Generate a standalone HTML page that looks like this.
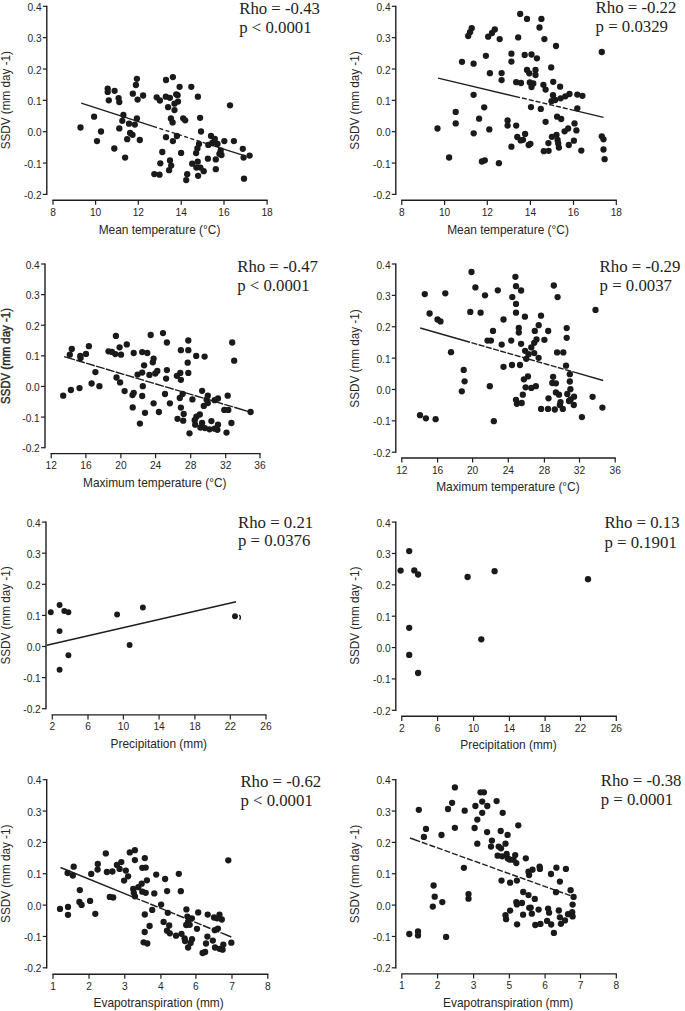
<!DOCTYPE html>
<html><head><meta charset="utf-8"><style>
html,body{margin:0;padding:0;background:#fff;}
svg{display:block;}
.t{font-family:"Liberation Sans",sans-serif;font-size:10.2px;fill:#262626;}
.yl{font-family:"Liberation Sans",sans-serif;font-size:11.9px;fill:#262626;}
.yl.b{stroke:#262626;stroke-width:0.4px;}
.xl{font-family:"Liberation Sans",sans-serif;font-size:11.9px;fill:#262626;}
.r{font-family:"Liberation Serif",serif;font-size:16.8px;fill:#1e1e1e;}
circle{fill:#1a1a1a;}
</style></head><body>
<svg width="685" height="1011" viewBox="0 0 685 1011">
<rect width="685" height="1011" fill="#fff"/>
<path d="M46.80 5.70V195.00" stroke="#1e1e1e" stroke-width="1.4" fill="none"/>
<path d="M42.80 6.30H46.80" stroke="#1e1e1e" stroke-width="1.2"/>
<text x="41.60" y="10.80" class="t" text-anchor="end">0.4</text>
<path d="M42.80 37.65H46.80" stroke="#1e1e1e" stroke-width="1.2"/>
<text x="41.60" y="42.15" class="t" text-anchor="end">0.3</text>
<path d="M42.80 69.00H46.80" stroke="#1e1e1e" stroke-width="1.2"/>
<text x="41.60" y="73.50" class="t" text-anchor="end">0.2</text>
<path d="M42.80 100.35H46.80" stroke="#1e1e1e" stroke-width="1.2"/>
<text x="41.60" y="104.85" class="t" text-anchor="end">0.1</text>
<path d="M42.80 131.70H46.80" stroke="#1e1e1e" stroke-width="1.2"/>
<text x="41.60" y="136.20" class="t" text-anchor="end">0.0</text>
<path d="M42.80 163.05H46.80" stroke="#1e1e1e" stroke-width="1.2"/>
<text x="41.60" y="167.55" class="t" text-anchor="end">-0.1</text>
<path d="M42.80 194.40H46.80" stroke="#1e1e1e" stroke-width="1.2"/>
<text x="41.60" y="198.90" class="t" text-anchor="end">-0.2</text>
<path d="M52.40 200.20H267.70" stroke="#1e1e1e" stroke-width="1.4" fill="none"/>
<path d="M53.00 200.20V204.80" stroke="#1e1e1e" stroke-width="1.2"/>
<text x="53.00" y="215.70" class="t" text-anchor="middle">8</text>
<path d="M95.60 200.20V204.80" stroke="#1e1e1e" stroke-width="1.2"/>
<text x="95.60" y="215.70" class="t" text-anchor="middle">10</text>
<path d="M138.30 200.20V204.80" stroke="#1e1e1e" stroke-width="1.2"/>
<text x="138.30" y="215.70" class="t" text-anchor="middle">12</text>
<path d="M181.20 200.20V204.80" stroke="#1e1e1e" stroke-width="1.2"/>
<text x="181.20" y="215.70" class="t" text-anchor="middle">14</text>
<path d="M224.00 200.20V204.80" stroke="#1e1e1e" stroke-width="1.2"/>
<text x="224.00" y="215.70" class="t" text-anchor="middle">16</text>
<path d="M267.10 200.20V204.80" stroke="#1e1e1e" stroke-width="1.2"/>
<text x="267.10" y="215.70" class="t" text-anchor="middle">18</text>
<text x="0" y="0" class="yl" text-anchor="middle" transform="translate(10.00 100.20) rotate(-90) scale(0.986 1)">SSDV (mm day -1)</text>
<text x="159.50" y="234.00" class="xl" text-anchor="middle">Mean temperature (°C)</text>
<text x="239.20" y="13.80" class="r">Rho = -0.43</text>
<text x="239.20" y="33.20" class="r">p &lt; 0.0001</text>
<path d="M81.20 103.20L157.00 127.61" stroke="#1e1e1e" stroke-width="1.4" fill="none"/>
<path d="M159.38 128.38L163.19 129.61" stroke="#1e1e1e" stroke-width="1.4" fill="none"/>
<path d="M165.57 130.37L169.37 131.60" stroke="#1e1e1e" stroke-width="1.4" fill="none"/>
<path d="M171.75 132.37L175.56 133.59" stroke="#1e1e1e" stroke-width="1.4" fill="none"/>
<path d="M177.94 134.36L181.75 135.59" stroke="#1e1e1e" stroke-width="1.4" fill="none"/>
<path d="M184.13 136.35L187.93 137.58" stroke="#1e1e1e" stroke-width="1.4" fill="none"/>
<path d="M190.31 138.34L194.12 139.57" stroke="#1e1e1e" stroke-width="1.4" fill="none"/>
<path d="M196.50 140.34L200.31 141.56" stroke="#1e1e1e" stroke-width="1.4" fill="none"/>
<path d="M202.69 142.33L205.00 143.07" stroke="#1e1e1e" stroke-width="1.4" fill="none"/>
<path d="M205.00 143.07L244.20 155.70" stroke="#1e1e1e" stroke-width="1.4" fill="none"/>
<circle cx="80.5" cy="127.5" r="3.15"/>
<circle cx="94.1" cy="116.7" r="3.15"/>
<circle cx="101.0" cy="131.5" r="3.15"/>
<circle cx="97.0" cy="141.1" r="3.15"/>
<circle cx="107.7" cy="88.6" r="3.15"/>
<circle cx="107.7" cy="91.9" r="3.15"/>
<circle cx="114.6" cy="90.8" r="3.15"/>
<circle cx="108.8" cy="100.3" r="3.15"/>
<circle cx="118.6" cy="98.1" r="3.15"/>
<circle cx="119.3" cy="102.1" r="3.15"/>
<circle cx="123.4" cy="114.9" r="3.15"/>
<circle cx="122.3" cy="120.8" r="3.15"/>
<circle cx="119.3" cy="128.4" r="3.15"/>
<circle cx="114.3" cy="148.5" r="3.15"/>
<circle cx="125.1" cy="157.6" r="3.15"/>
<circle cx="129.0" cy="123.7" r="3.15"/>
<circle cx="134.8" cy="124.6" r="3.15"/>
<circle cx="136.9" cy="118.4" r="3.15"/>
<circle cx="130.1" cy="133.0" r="3.15"/>
<circle cx="132.5" cy="134.8" r="3.15"/>
<circle cx="127.2" cy="139.2" r="3.15"/>
<circle cx="139.8" cy="140.0" r="3.15"/>
<circle cx="136.9" cy="78.8" r="3.15"/>
<circle cx="135.9" cy="85.0" r="3.15"/>
<circle cx="132.8" cy="93.7" r="3.15"/>
<circle cx="137.6" cy="99.6" r="3.15"/>
<circle cx="143.1" cy="95.5" r="3.15"/>
<circle cx="166.0" cy="80.0" r="3.15"/>
<circle cx="172.9" cy="77.1" r="3.15"/>
<circle cx="179.6" cy="86.8" r="3.15"/>
<circle cx="191.3" cy="86.8" r="3.15"/>
<circle cx="197.9" cy="96.7" r="3.15"/>
<circle cx="156.7" cy="97.3" r="3.15"/>
<circle cx="159.9" cy="100.5" r="3.15"/>
<circle cx="165.8" cy="96.7" r="3.15"/>
<circle cx="169.9" cy="97.8" r="3.15"/>
<circle cx="176.2" cy="94.3" r="3.15"/>
<circle cx="177.6" cy="95.2" r="3.15"/>
<circle cx="178.0" cy="101.6" r="3.15"/>
<circle cx="174.5" cy="103.7" r="3.15"/>
<circle cx="168.1" cy="107.2" r="3.15"/>
<circle cx="174.5" cy="110.1" r="3.15"/>
<circle cx="170.9" cy="118.4" r="3.15"/>
<circle cx="172.6" cy="122.4" r="3.15"/>
<circle cx="183.2" cy="118.3" r="3.15"/>
<circle cx="185.2" cy="120.3" r="3.15"/>
<circle cx="200.1" cy="117.8" r="3.15"/>
<circle cx="201.0" cy="131.5" r="3.15"/>
<circle cx="166.0" cy="137.2" r="3.15"/>
<circle cx="172.9" cy="141.1" r="3.15"/>
<circle cx="176.9" cy="136.0" r="3.15"/>
<circle cx="162.3" cy="152.0" r="3.15"/>
<circle cx="181.1" cy="152.9" r="3.15"/>
<circle cx="160.3" cy="163.3" r="3.15"/>
<circle cx="170.0" cy="160.5" r="3.15"/>
<circle cx="171.2" cy="165.6" r="3.15"/>
<circle cx="169.1" cy="170.2" r="3.15"/>
<circle cx="154.3" cy="174.1" r="3.15"/>
<circle cx="159.5" cy="174.7" r="3.15"/>
<circle cx="199.0" cy="143.9" r="3.15"/>
<circle cx="197.4" cy="148.5" r="3.15"/>
<circle cx="196.1" cy="153.1" r="3.15"/>
<circle cx="208.3" cy="144.9" r="3.15"/>
<circle cx="212.2" cy="143.0" r="3.15"/>
<circle cx="217.5" cy="143.9" r="3.15"/>
<circle cx="211.0" cy="136.0" r="3.15"/>
<circle cx="214.8" cy="138.9" r="3.15"/>
<circle cx="220.7" cy="150.5" r="3.15"/>
<circle cx="219.4" cy="153.8" r="3.15"/>
<circle cx="221.5" cy="155.0" r="3.15"/>
<circle cx="215.8" cy="159.4" r="3.15"/>
<circle cx="207.9" cy="158.7" r="3.15"/>
<circle cx="215.8" cy="169.2" r="3.15"/>
<circle cx="192.2" cy="163.7" r="3.15"/>
<circle cx="197.7" cy="161.7" r="3.15"/>
<circle cx="196.4" cy="167.6" r="3.15"/>
<circle cx="200.4" cy="167.6" r="3.15"/>
<circle cx="203.7" cy="171.2" r="3.15"/>
<circle cx="198.1" cy="175.8" r="3.15"/>
<circle cx="187.2" cy="174.2" r="3.15"/>
<circle cx="186.2" cy="180.1" r="3.15"/>
<circle cx="230.0" cy="105.3" r="3.15"/>
<circle cx="224.3" cy="141.1" r="3.15"/>
<circle cx="233.9" cy="141.1" r="3.15"/>
<circle cx="242.8" cy="148.8" r="3.15"/>
<circle cx="249.6" cy="155.6" r="3.15"/>
<circle cx="243.6" cy="157.6" r="3.15"/>
<circle cx="244.0" cy="178.7" r="3.15"/>
<path d="M395.80 5.70V195.00" stroke="#1e1e1e" stroke-width="1.4" fill="none"/>
<path d="M391.80 6.30H395.80" stroke="#1e1e1e" stroke-width="1.2"/>
<text x="390.60" y="10.80" class="t" text-anchor="end">0.4</text>
<path d="M391.80 37.65H395.80" stroke="#1e1e1e" stroke-width="1.2"/>
<text x="390.60" y="42.15" class="t" text-anchor="end">0.3</text>
<path d="M391.80 69.00H395.80" stroke="#1e1e1e" stroke-width="1.2"/>
<text x="390.60" y="73.50" class="t" text-anchor="end">0.2</text>
<path d="M391.80 100.35H395.80" stroke="#1e1e1e" stroke-width="1.2"/>
<text x="390.60" y="104.85" class="t" text-anchor="end">0.1</text>
<path d="M391.80 131.70H395.80" stroke="#1e1e1e" stroke-width="1.2"/>
<text x="390.60" y="136.20" class="t" text-anchor="end">0.0</text>
<path d="M391.80 163.05H395.80" stroke="#1e1e1e" stroke-width="1.2"/>
<text x="390.60" y="167.55" class="t" text-anchor="end">-0.1</text>
<path d="M391.80 194.40H395.80" stroke="#1e1e1e" stroke-width="1.2"/>
<text x="390.60" y="198.90" class="t" text-anchor="end">-0.2</text>
<path d="M401.20 200.30H616.90" stroke="#1e1e1e" stroke-width="1.4" fill="none"/>
<path d="M401.80 200.30V204.90" stroke="#1e1e1e" stroke-width="1.2"/>
<text x="401.80" y="215.80" class="t" text-anchor="middle">8</text>
<path d="M444.60 200.30V204.90" stroke="#1e1e1e" stroke-width="1.2"/>
<text x="444.60" y="215.80" class="t" text-anchor="middle">10</text>
<path d="M487.30 200.30V204.90" stroke="#1e1e1e" stroke-width="1.2"/>
<text x="487.30" y="215.80" class="t" text-anchor="middle">12</text>
<path d="M530.40 200.30V204.90" stroke="#1e1e1e" stroke-width="1.2"/>
<text x="530.40" y="215.80" class="t" text-anchor="middle">14</text>
<path d="M573.50 200.30V204.90" stroke="#1e1e1e" stroke-width="1.2"/>
<text x="573.50" y="215.80" class="t" text-anchor="middle">16</text>
<path d="M616.30 200.30V204.90" stroke="#1e1e1e" stroke-width="1.2"/>
<text x="616.30" y="215.80" class="t" text-anchor="middle">18</text>
<text x="0" y="0" class="yl" text-anchor="middle" transform="translate(359.10 100.50) rotate(-90) scale(0.986 1)">SSDV (mm day -1)</text>
<text x="508.00" y="234.00" class="xl" text-anchor="middle">Mean temperature (°C)</text>
<text x="595.60" y="13.00" class="r">Rho = -0.22</text>
<text x="595.60" y="32.30" class="r">p = 0.0329</text>
<path d="M438.10 78.10L520.00 97.56" stroke="#1e1e1e" stroke-width="1.4" fill="none"/>
<path d="M521.95 98.02L526.81 99.18" stroke="#1e1e1e" stroke-width="1.4" fill="none"/>
<path d="M528.76 99.64L533.62 100.80" stroke="#1e1e1e" stroke-width="1.4" fill="none"/>
<path d="M535.57 101.26L540.43 102.41" stroke="#1e1e1e" stroke-width="1.4" fill="none"/>
<path d="M542.38 102.88L547.24 104.03" stroke="#1e1e1e" stroke-width="1.4" fill="none"/>
<path d="M549.19 104.50L554.05 105.65" stroke="#1e1e1e" stroke-width="1.4" fill="none"/>
<path d="M556.00 106.11L560.86 107.27" stroke="#1e1e1e" stroke-width="1.4" fill="none"/>
<path d="M562.81 107.73L567.67 108.89" stroke="#1e1e1e" stroke-width="1.4" fill="none"/>
<path d="M569.62 109.35L570.00 109.44" stroke="#1e1e1e" stroke-width="1.4" fill="none"/>
<path d="M570.00 109.44L603.50 117.40" stroke="#1e1e1e" stroke-width="1.4" fill="none"/>
<circle cx="471.7" cy="28.2" r="3.15"/>
<circle cx="470.0" cy="32.2" r="3.15"/>
<circle cx="468.2" cy="36.0" r="3.15"/>
<circle cx="488.2" cy="36.7" r="3.15"/>
<circle cx="485.9" cy="55.8" r="3.15"/>
<circle cx="462.0" cy="61.8" r="3.15"/>
<circle cx="473.6" cy="63.7" r="3.15"/>
<circle cx="489.9" cy="73.2" r="3.15"/>
<circle cx="473.6" cy="94.8" r="3.15"/>
<circle cx="484.2" cy="107.3" r="3.15"/>
<circle cx="455.7" cy="111.9" r="3.15"/>
<circle cx="479.1" cy="118.7" r="3.15"/>
<circle cx="455.7" cy="123.4" r="3.15"/>
<circle cx="437.5" cy="128.5" r="3.15"/>
<circle cx="489.3" cy="129.4" r="3.15"/>
<circle cx="473.7" cy="133.3" r="3.15"/>
<circle cx="449.1" cy="157.5" r="3.15"/>
<circle cx="481.9" cy="161.5" r="3.15"/>
<circle cx="484.8" cy="160.3" r="3.15"/>
<circle cx="494.8" cy="29.5" r="3.15"/>
<circle cx="492.0" cy="33.0" r="3.15"/>
<circle cx="499.7" cy="39.1" r="3.15"/>
<circle cx="520.2" cy="13.9" r="3.15"/>
<circle cx="527.0" cy="18.9" r="3.15"/>
<circle cx="541.4" cy="18.9" r="3.15"/>
<circle cx="539.5" cy="27.5" r="3.15"/>
<circle cx="518.2" cy="37.4" r="3.15"/>
<circle cx="544.4" cy="39.1" r="3.15"/>
<circle cx="556.0" cy="46.0" r="3.15"/>
<circle cx="511.4" cy="53.7" r="3.15"/>
<circle cx="511.4" cy="61.6" r="3.15"/>
<circle cx="524.7" cy="54.9" r="3.15"/>
<circle cx="531.5" cy="54.5" r="3.15"/>
<circle cx="536.9" cy="58.3" r="3.15"/>
<circle cx="551.2" cy="67.4" r="3.15"/>
<circle cx="501.6" cy="73.1" r="3.15"/>
<circle cx="501.6" cy="80.1" r="3.15"/>
<circle cx="516.2" cy="82.2" r="3.15"/>
<circle cx="521.0" cy="83.0" r="3.15"/>
<circle cx="527.0" cy="69.9" r="3.15"/>
<circle cx="529.3" cy="73.3" r="3.15"/>
<circle cx="535.5" cy="69.9" r="3.15"/>
<circle cx="535.5" cy="75.0" r="3.15"/>
<circle cx="529.8" cy="82.4" r="3.15"/>
<circle cx="533.3" cy="83.5" r="3.15"/>
<circle cx="531.5" cy="87.0" r="3.15"/>
<circle cx="543.4" cy="84.8" r="3.15"/>
<circle cx="545.6" cy="89.6" r="3.15"/>
<circle cx="553.2" cy="81.8" r="3.15"/>
<circle cx="560.1" cy="86.7" r="3.15"/>
<circle cx="553.0" cy="95.2" r="3.15"/>
<circle cx="551.5" cy="101.2" r="3.15"/>
<circle cx="555.2" cy="100.0" r="3.15"/>
<circle cx="531.0" cy="107.1" r="3.15"/>
<circle cx="540.8" cy="108.9" r="3.15"/>
<circle cx="601.8" cy="52.0" r="3.15"/>
<circle cx="560.6" cy="98.3" r="3.15"/>
<circle cx="565.3" cy="96.3" r="3.15"/>
<circle cx="569.5" cy="94.0" r="3.15"/>
<circle cx="577.3" cy="94.6" r="3.15"/>
<circle cx="582.4" cy="95.8" r="3.15"/>
<circle cx="577.3" cy="108.3" r="3.15"/>
<circle cx="557.1" cy="116.7" r="3.15"/>
<circle cx="561.2" cy="119.0" r="3.15"/>
<circle cx="574.5" cy="123.4" r="3.15"/>
<circle cx="568.2" cy="128.5" r="3.15"/>
<circle cx="564.6" cy="131.3" r="3.15"/>
<circle cx="576.4" cy="130.4" r="3.15"/>
<circle cx="601.8" cy="136.3" r="3.15"/>
<circle cx="603.5" cy="139.3" r="3.15"/>
<circle cx="573.9" cy="140.7" r="3.15"/>
<circle cx="568.8" cy="145.0" r="3.15"/>
<circle cx="581.3" cy="150.6" r="3.15"/>
<circle cx="603.5" cy="149.5" r="3.15"/>
<circle cx="604.6" cy="159.2" r="3.15"/>
<circle cx="507.6" cy="120.5" r="3.15"/>
<circle cx="507.6" cy="125.6" r="3.15"/>
<circle cx="516.2" cy="125.6" r="3.15"/>
<circle cx="525.1" cy="133.9" r="3.15"/>
<circle cx="517.3" cy="137.0" r="3.15"/>
<circle cx="520.7" cy="140.4" r="3.15"/>
<circle cx="523.0" cy="139.8" r="3.15"/>
<circle cx="511.4" cy="146.7" r="3.15"/>
<circle cx="528.7" cy="145.0" r="3.15"/>
<circle cx="530.4" cy="143.8" r="3.15"/>
<circle cx="545.6" cy="121.8" r="3.15"/>
<circle cx="498.9" cy="163.2" r="3.15"/>
<circle cx="551.9" cy="136.8" r="3.15"/>
<circle cx="556.5" cy="134.8" r="3.15"/>
<circle cx="557.6" cy="140.0" r="3.15"/>
<circle cx="558.2" cy="143.5" r="3.15"/>
<circle cx="558.9" cy="147.6" r="3.15"/>
<circle cx="548.4" cy="143.1" r="3.15"/>
<circle cx="543.8" cy="151.2" r="3.15"/>
<circle cx="548.6" cy="150.8" r="3.15"/>
<path d="M45.00 263.40V448.30" stroke="#1e1e1e" stroke-width="1.4" fill="none"/>
<path d="M41.00 264.00H45.00" stroke="#1e1e1e" stroke-width="1.2"/>
<text x="39.80" y="268.50" class="t" text-anchor="end">0.4</text>
<path d="M41.00 294.62H45.00" stroke="#1e1e1e" stroke-width="1.2"/>
<text x="39.80" y="299.12" class="t" text-anchor="end">0.3</text>
<path d="M41.00 325.23H45.00" stroke="#1e1e1e" stroke-width="1.2"/>
<text x="39.80" y="329.73" class="t" text-anchor="end">0.2</text>
<path d="M41.00 355.85H45.00" stroke="#1e1e1e" stroke-width="1.2"/>
<text x="39.80" y="360.35" class="t" text-anchor="end">0.1</text>
<path d="M41.00 386.47H45.00" stroke="#1e1e1e" stroke-width="1.2"/>
<text x="39.80" y="390.97" class="t" text-anchor="end">0.0</text>
<path d="M41.00 417.08H45.00" stroke="#1e1e1e" stroke-width="1.2"/>
<text x="39.80" y="421.58" class="t" text-anchor="end">-0.1</text>
<path d="M41.00 447.70H45.00" stroke="#1e1e1e" stroke-width="1.2"/>
<text x="39.80" y="452.20" class="t" text-anchor="end">-0.2</text>
<path d="M50.60 453.60H260.60" stroke="#1e1e1e" stroke-width="1.4" fill="none"/>
<path d="M51.20 453.60V458.20" stroke="#1e1e1e" stroke-width="1.2"/>
<text x="51.20" y="469.10" class="t" text-anchor="middle">12</text>
<path d="M85.90 453.60V458.20" stroke="#1e1e1e" stroke-width="1.2"/>
<text x="85.90" y="469.10" class="t" text-anchor="middle">16</text>
<path d="M120.90 453.60V458.20" stroke="#1e1e1e" stroke-width="1.2"/>
<text x="120.90" y="469.10" class="t" text-anchor="middle">20</text>
<path d="M155.60 453.60V458.20" stroke="#1e1e1e" stroke-width="1.2"/>
<text x="155.60" y="469.10" class="t" text-anchor="middle">24</text>
<path d="M190.70 453.60V458.20" stroke="#1e1e1e" stroke-width="1.2"/>
<text x="190.70" y="469.10" class="t" text-anchor="middle">28</text>
<path d="M225.70 453.60V458.20" stroke="#1e1e1e" stroke-width="1.2"/>
<text x="225.70" y="469.10" class="t" text-anchor="middle">32</text>
<path d="M260.00 453.60V458.20" stroke="#1e1e1e" stroke-width="1.2"/>
<text x="260.00" y="469.10" class="t" text-anchor="middle">36</text>
<text x="0" y="0" class="yl b" text-anchor="middle" transform="translate(10.00 356.00) rotate(-90) scale(0.962 1)">SSDV (mm day -1)</text>
<text x="154.80" y="487.00" class="xl" text-anchor="middle">Maximum temperature (°C)</text>
<text x="237.20" y="272.10" class="r">Rho = -0.47</text>
<text x="237.20" y="291.30" class="r">p &lt; 0.0001</text>
<path d="M64.10 356.60L75.00 359.85" stroke="#1e1e1e" stroke-width="1.4" fill="none"/>
<path d="M76.25 360.22L84.87 362.79" stroke="#1e1e1e" stroke-width="1.4" fill="none"/>
<path d="M86.12 363.16L94.74 365.73" stroke="#1e1e1e" stroke-width="1.4" fill="none"/>
<path d="M95.99 366.10L104.61 368.67" stroke="#1e1e1e" stroke-width="1.4" fill="none"/>
<path d="M105.86 369.04L114.48 371.61" stroke="#1e1e1e" stroke-width="1.4" fill="none"/>
<path d="M115.73 371.98L124.36 374.55" stroke="#1e1e1e" stroke-width="1.4" fill="none"/>
<path d="M125.60 374.92L134.23 377.49" stroke="#1e1e1e" stroke-width="1.4" fill="none"/>
<path d="M135.47 377.86L144.10 380.43" stroke="#1e1e1e" stroke-width="1.4" fill="none"/>
<path d="M145.34 380.81L153.97 383.38" stroke="#1e1e1e" stroke-width="1.4" fill="none"/>
<path d="M155.22 383.75L163.84 386.32" stroke="#1e1e1e" stroke-width="1.4" fill="none"/>
<path d="M165.09 386.69L173.71 389.26" stroke="#1e1e1e" stroke-width="1.4" fill="none"/>
<path d="M174.96 389.63L183.58 392.20" stroke="#1e1e1e" stroke-width="1.4" fill="none"/>
<path d="M184.83 392.57L193.45 395.14" stroke="#1e1e1e" stroke-width="1.4" fill="none"/>
<path d="M194.70 395.51L203.33 398.08" stroke="#1e1e1e" stroke-width="1.4" fill="none"/>
<path d="M204.57 398.45L213.20 401.02" stroke="#1e1e1e" stroke-width="1.4" fill="none"/>
<path d="M214.44 401.39L223.07 403.96" stroke="#1e1e1e" stroke-width="1.4" fill="none"/>
<path d="M224.31 404.33L232.94 406.90" stroke="#1e1e1e" stroke-width="1.4" fill="none"/>
<path d="M234.18 407.28L240.00 409.01" stroke="#1e1e1e" stroke-width="1.4" fill="none"/>
<path d="M240.00 409.01L248.70 411.60" stroke="#1e1e1e" stroke-width="1.4" fill="none"/>
<circle cx="71.8" cy="349.0" r="3.15"/>
<circle cx="69.8" cy="354.7" r="3.15"/>
<circle cx="88.9" cy="346.2" r="3.15"/>
<circle cx="86.0" cy="353.9" r="3.15"/>
<circle cx="80.3" cy="355.9" r="3.15"/>
<circle cx="80.6" cy="358.1" r="3.15"/>
<circle cx="115.9" cy="335.9" r="3.15"/>
<circle cx="119.6" cy="347.3" r="3.15"/>
<circle cx="108.5" cy="351.3" r="3.15"/>
<circle cx="111.9" cy="351.9" r="3.15"/>
<circle cx="115.3" cy="354.1" r="3.15"/>
<circle cx="121.0" cy="354.7" r="3.15"/>
<circle cx="126.8" cy="344.4" r="3.15"/>
<circle cx="95.4" cy="372.1" r="3.15"/>
<circle cx="116.5" cy="377.5" r="3.15"/>
<circle cx="120.1" cy="382.4" r="3.15"/>
<circle cx="91.6" cy="383.5" r="3.15"/>
<circle cx="99.4" cy="386.2" r="3.15"/>
<circle cx="70.9" cy="390.0" r="3.15"/>
<circle cx="79.5" cy="388.1" r="3.15"/>
<circle cx="63.2" cy="395.7" r="3.15"/>
<circle cx="124.6" cy="391.1" r="3.15"/>
<circle cx="133.7" cy="353.0" r="3.15"/>
<circle cx="142.2" cy="352.1" r="3.15"/>
<circle cx="147.3" cy="353.0" r="3.15"/>
<circle cx="150.7" cy="335.0" r="3.15"/>
<circle cx="163.0" cy="333.1" r="3.15"/>
<circle cx="166.9" cy="342.5" r="3.15"/>
<circle cx="153.6" cy="358.7" r="3.15"/>
<circle cx="152.8" cy="362.3" r="3.15"/>
<circle cx="144.1" cy="365.3" r="3.15"/>
<circle cx="137.6" cy="374.6" r="3.15"/>
<circle cx="142.2" cy="372.6" r="3.15"/>
<circle cx="149.4" cy="374.9" r="3.15"/>
<circle cx="155.3" cy="373.5" r="3.15"/>
<circle cx="157.3" cy="371.0" r="3.15"/>
<circle cx="166.9" cy="370.1" r="3.15"/>
<circle cx="166.1" cy="378.6" r="3.15"/>
<circle cx="180.9" cy="350.2" r="3.15"/>
<circle cx="188.3" cy="340.5" r="3.15"/>
<circle cx="188.3" cy="350.2" r="3.15"/>
<circle cx="187.7" cy="362.7" r="3.15"/>
<circle cx="188.3" cy="372.9" r="3.15"/>
<circle cx="176.9" cy="375.8" r="3.15"/>
<circle cx="180.3" cy="372.9" r="3.15"/>
<circle cx="180.9" cy="379.8" r="3.15"/>
<circle cx="133.7" cy="392.8" r="3.15"/>
<circle cx="132.5" cy="395.1" r="3.15"/>
<circle cx="142.8" cy="386.2" r="3.15"/>
<circle cx="142.2" cy="396.0" r="3.15"/>
<circle cx="165.0" cy="394.0" r="3.15"/>
<circle cx="182.6" cy="394.0" r="3.15"/>
<circle cx="179.8" cy="398.0" r="3.15"/>
<circle cx="153.6" cy="403.3" r="3.15"/>
<circle cx="169.9" cy="403.3" r="3.15"/>
<circle cx="132.7" cy="407.4" r="3.15"/>
<circle cx="180.9" cy="407.6" r="3.15"/>
<circle cx="183.7" cy="413.9" r="3.15"/>
<circle cx="145.0" cy="412.8" r="3.15"/>
<circle cx="158.9" cy="412.0" r="3.15"/>
<circle cx="177.5" cy="418.8" r="3.15"/>
<circle cx="183.2" cy="420.7" r="3.15"/>
<circle cx="139.9" cy="423.6" r="3.15"/>
<circle cx="189.5" cy="433.3" r="3.15"/>
<circle cx="196.2" cy="355.9" r="3.15"/>
<circle cx="204.6" cy="356.6" r="3.15"/>
<circle cx="232.2" cy="342.5" r="3.15"/>
<circle cx="234.2" cy="360.7" r="3.15"/>
<circle cx="202.1" cy="390.8" r="3.15"/>
<circle cx="192.4" cy="399.4" r="3.15"/>
<circle cx="207.8" cy="395.7" r="3.15"/>
<circle cx="206.6" cy="399.7" r="3.15"/>
<circle cx="207.8" cy="403.1" r="3.15"/>
<circle cx="203.8" cy="405.9" r="3.15"/>
<circle cx="214.6" cy="400.2" r="3.15"/>
<circle cx="218.0" cy="398.5" r="3.15"/>
<circle cx="227.7" cy="395.7" r="3.15"/>
<circle cx="224.3" cy="409.9" r="3.15"/>
<circle cx="228.3" cy="409.9" r="3.15"/>
<circle cx="250.6" cy="412.0" r="3.15"/>
<circle cx="199.8" cy="414.5" r="3.15"/>
<circle cx="196.4" cy="416.7" r="3.15"/>
<circle cx="194.7" cy="420.2" r="3.15"/>
<circle cx="195.2" cy="424.7" r="3.15"/>
<circle cx="202.1" cy="423.0" r="3.15"/>
<circle cx="200.4" cy="427.6" r="3.15"/>
<circle cx="204.9" cy="428.1" r="3.15"/>
<circle cx="209.5" cy="429.3" r="3.15"/>
<circle cx="214.6" cy="428.7" r="3.15"/>
<circle cx="218.0" cy="424.7" r="3.15"/>
<circle cx="217.4" cy="429.8" r="3.15"/>
<circle cx="211.4" cy="421.1" r="3.15"/>
<circle cx="231.4" cy="423.0" r="3.15"/>
<circle cx="226.5" cy="432.6" r="3.15"/>
<path d="M395.80 263.40V452.80" stroke="#1e1e1e" stroke-width="1.4" fill="none"/>
<path d="M391.80 264.00H395.80" stroke="#1e1e1e" stroke-width="1.2"/>
<text x="390.60" y="268.50" class="t" text-anchor="end">0.4</text>
<path d="M391.80 295.37H395.80" stroke="#1e1e1e" stroke-width="1.2"/>
<text x="390.60" y="299.87" class="t" text-anchor="end">0.3</text>
<path d="M391.80 326.73H395.80" stroke="#1e1e1e" stroke-width="1.2"/>
<text x="390.60" y="331.23" class="t" text-anchor="end">0.2</text>
<path d="M391.80 358.10H395.80" stroke="#1e1e1e" stroke-width="1.2"/>
<text x="390.60" y="362.60" class="t" text-anchor="end">0.1</text>
<path d="M391.80 389.47H395.80" stroke="#1e1e1e" stroke-width="1.2"/>
<text x="390.60" y="393.97" class="t" text-anchor="end">0.0</text>
<path d="M391.80 420.83H395.80" stroke="#1e1e1e" stroke-width="1.2"/>
<text x="390.60" y="425.33" class="t" text-anchor="end">-0.1</text>
<path d="M391.80 452.20H395.80" stroke="#1e1e1e" stroke-width="1.2"/>
<text x="390.60" y="456.70" class="t" text-anchor="end">-0.2</text>
<path d="M401.20 458.00H615.80" stroke="#1e1e1e" stroke-width="1.4" fill="none"/>
<path d="M401.80 458.00V462.60" stroke="#1e1e1e" stroke-width="1.2"/>
<text x="401.80" y="473.50" class="t" text-anchor="middle">12</text>
<path d="M437.60 458.00V462.60" stroke="#1e1e1e" stroke-width="1.2"/>
<text x="437.60" y="473.50" class="t" text-anchor="middle">16</text>
<path d="M472.60 458.00V462.60" stroke="#1e1e1e" stroke-width="1.2"/>
<text x="472.60" y="473.50" class="t" text-anchor="middle">20</text>
<path d="M508.30 458.00V462.60" stroke="#1e1e1e" stroke-width="1.2"/>
<text x="508.30" y="473.50" class="t" text-anchor="middle">24</text>
<path d="M544.40 458.00V462.60" stroke="#1e1e1e" stroke-width="1.2"/>
<text x="544.40" y="473.50" class="t" text-anchor="middle">28</text>
<path d="M579.50 458.00V462.60" stroke="#1e1e1e" stroke-width="1.2"/>
<text x="579.50" y="473.50" class="t" text-anchor="middle">32</text>
<path d="M615.20 458.00V462.60" stroke="#1e1e1e" stroke-width="1.2"/>
<text x="615.20" y="473.50" class="t" text-anchor="middle">36</text>
<text x="0" y="0" class="yl" text-anchor="middle" transform="translate(359.10 358.50) rotate(-90) scale(0.986 1)">SSDV (mm day -1)</text>
<text x="507.90" y="491.00" class="xl" text-anchor="middle">Maximum temperature (°C)</text>
<text x="599.60" y="271.60" class="r">Rho = -0.29</text>
<text x="599.60" y="290.50" class="r">p = 0.0037</text>
<path d="M420.20 328.00L470.00 342.29" stroke="#1e1e1e" stroke-width="1.4" fill="none"/>
<path d="M471.44 342.70L477.21 344.36" stroke="#1e1e1e" stroke-width="1.4" fill="none"/>
<path d="M478.65 344.77L484.42 346.42" stroke="#1e1e1e" stroke-width="1.4" fill="none"/>
<path d="M485.86 346.84L491.63 348.49" stroke="#1e1e1e" stroke-width="1.4" fill="none"/>
<path d="M493.07 348.91L498.84 350.56" stroke="#1e1e1e" stroke-width="1.4" fill="none"/>
<path d="M500.28 350.97L506.05 352.63" stroke="#1e1e1e" stroke-width="1.4" fill="none"/>
<path d="M507.49 353.04L513.26 354.70" stroke="#1e1e1e" stroke-width="1.4" fill="none"/>
<path d="M514.70 355.11L520.46 356.76" stroke="#1e1e1e" stroke-width="1.4" fill="none"/>
<path d="M521.91 357.18L527.67 358.83" stroke="#1e1e1e" stroke-width="1.4" fill="none"/>
<path d="M529.12 359.25L534.88 360.90" stroke="#1e1e1e" stroke-width="1.4" fill="none"/>
<path d="M536.32 361.31L542.09 362.97" stroke="#1e1e1e" stroke-width="1.4" fill="none"/>
<path d="M543.53 363.38L549.30 365.04" stroke="#1e1e1e" stroke-width="1.4" fill="none"/>
<path d="M550.74 365.45L556.51 367.11" stroke="#1e1e1e" stroke-width="1.4" fill="none"/>
<path d="M557.95 367.52L563.72 369.17" stroke="#1e1e1e" stroke-width="1.4" fill="none"/>
<path d="M565.16 369.59L570.93 371.24" stroke="#1e1e1e" stroke-width="1.4" fill="none"/>
<path d="M572.37 371.66L575.00 372.41" stroke="#1e1e1e" stroke-width="1.4" fill="none"/>
<path d="M575.00 372.41L603.20 380.50" stroke="#1e1e1e" stroke-width="1.4" fill="none"/>
<circle cx="424.8" cy="294.1" r="3.15"/>
<circle cx="445.3" cy="293.3" r="3.15"/>
<circle cx="429.6" cy="313.5" r="3.15"/>
<circle cx="437.5" cy="319.5" r="3.15"/>
<circle cx="440.5" cy="321.4" r="3.15"/>
<circle cx="471.5" cy="272.0" r="3.15"/>
<circle cx="475.4" cy="287.4" r="3.15"/>
<circle cx="470.3" cy="311.9" r="3.15"/>
<circle cx="480.6" cy="312.7" r="3.15"/>
<circle cx="451.0" cy="352.2" r="3.15"/>
<circle cx="463.7" cy="369.9" r="3.15"/>
<circle cx="464.6" cy="381.3" r="3.15"/>
<circle cx="461.8" cy="391.3" r="3.15"/>
<circle cx="420.0" cy="415.2" r="3.15"/>
<circle cx="425.9" cy="418.3" r="3.15"/>
<circle cx="435.6" cy="419.2" r="3.15"/>
<circle cx="515.4" cy="276.8" r="3.15"/>
<circle cx="497.8" cy="290.3" r="3.15"/>
<circle cx="516.0" cy="286.2" r="3.15"/>
<circle cx="521.1" cy="290.5" r="3.15"/>
<circle cx="485.0" cy="295.3" r="3.15"/>
<circle cx="512.3" cy="297.1" r="3.15"/>
<circle cx="516.0" cy="303.9" r="3.15"/>
<circle cx="516.0" cy="312.7" r="3.15"/>
<circle cx="524.9" cy="316.7" r="3.15"/>
<circle cx="503.5" cy="319.5" r="3.15"/>
<circle cx="541.0" cy="315.7" r="3.15"/>
<circle cx="538.7" cy="325.2" r="3.15"/>
<circle cx="534.8" cy="330.9" r="3.15"/>
<circle cx="518.8" cy="328.0" r="3.15"/>
<circle cx="518.8" cy="332.6" r="3.15"/>
<circle cx="493.0" cy="330.9" r="3.15"/>
<circle cx="487.5" cy="340.6" r="3.15"/>
<circle cx="490.9" cy="340.6" r="3.15"/>
<circle cx="501.7" cy="344.6" r="3.15"/>
<circle cx="511.2" cy="340.6" r="3.15"/>
<circle cx="521.1" cy="343.8" r="3.15"/>
<circle cx="536.5" cy="339.4" r="3.15"/>
<circle cx="534.2" cy="342.8" r="3.15"/>
<circle cx="531.3" cy="347.4" r="3.15"/>
<circle cx="544.4" cy="339.8" r="3.15"/>
<circle cx="525.1" cy="350.8" r="3.15"/>
<circle cx="528.5" cy="354.2" r="3.15"/>
<circle cx="526.2" cy="358.8" r="3.15"/>
<circle cx="534.2" cy="353.1" r="3.15"/>
<circle cx="538.6" cy="357.8" r="3.15"/>
<circle cx="503.5" cy="366.8" r="3.15"/>
<circle cx="512.0" cy="365.0" r="3.15"/>
<circle cx="520.0" cy="365.0" r="3.15"/>
<circle cx="527.9" cy="376.4" r="3.15"/>
<circle cx="523.9" cy="379.3" r="3.15"/>
<circle cx="489.8" cy="386.2" r="3.15"/>
<circle cx="525.6" cy="387.3" r="3.15"/>
<circle cx="531.3" cy="387.9" r="3.15"/>
<circle cx="535.9" cy="386.2" r="3.15"/>
<circle cx="522.8" cy="394.7" r="3.15"/>
<circle cx="516.0" cy="399.8" r="3.15"/>
<circle cx="516.9" cy="403.8" r="3.15"/>
<circle cx="521.7" cy="403.0" r="3.15"/>
<circle cx="541.1" cy="408.9" r="3.15"/>
<circle cx="493.8" cy="421.2" r="3.15"/>
<circle cx="557.6" cy="297.1" r="3.15"/>
<circle cx="595.5" cy="309.9" r="3.15"/>
<circle cx="548.2" cy="331.0" r="3.15"/>
<circle cx="566.7" cy="328.1" r="3.15"/>
<circle cx="566.7" cy="337.8" r="3.15"/>
<circle cx="557.1" cy="352.4" r="3.15"/>
<circle cx="563.3" cy="352.4" r="3.15"/>
<circle cx="566.0" cy="365.7" r="3.15"/>
<circle cx="569.8" cy="374.2" r="3.15"/>
<circle cx="569.8" cy="381.5" r="3.15"/>
<circle cx="553.1" cy="376.8" r="3.15"/>
<circle cx="552.3" cy="383.0" r="3.15"/>
<circle cx="555.9" cy="383.3" r="3.15"/>
<circle cx="570.4" cy="389.2" r="3.15"/>
<circle cx="555.9" cy="392.4" r="3.15"/>
<circle cx="559.0" cy="394.7" r="3.15"/>
<circle cx="567.3" cy="394.0" r="3.15"/>
<circle cx="574.1" cy="396.7" r="3.15"/>
<circle cx="570.7" cy="399.5" r="3.15"/>
<circle cx="569.0" cy="401.0" r="3.15"/>
<circle cx="548.5" cy="398.3" r="3.15"/>
<circle cx="560.5" cy="402.1" r="3.15"/>
<circle cx="559.9" cy="405.0" r="3.15"/>
<circle cx="573.8" cy="405.0" r="3.15"/>
<circle cx="548.0" cy="408.9" r="3.15"/>
<circle cx="554.8" cy="409.5" r="3.15"/>
<circle cx="562.8" cy="408.9" r="3.15"/>
<circle cx="592.6" cy="396.8" r="3.15"/>
<circle cx="602.4" cy="407.6" r="3.15"/>
<circle cx="581.9" cy="417.1" r="3.15"/>
<circle cx="553.8" cy="285.5" r="3.15"/>
<path d="M46.00 521.50V709.30" stroke="#1e1e1e" stroke-width="1.4" fill="none"/>
<path d="M42.00 522.10H46.00" stroke="#1e1e1e" stroke-width="1.2"/>
<text x="40.80" y="526.60" class="t" text-anchor="end">0.4</text>
<path d="M42.00 553.20H46.00" stroke="#1e1e1e" stroke-width="1.2"/>
<text x="40.80" y="557.70" class="t" text-anchor="end">0.3</text>
<path d="M42.00 584.30H46.00" stroke="#1e1e1e" stroke-width="1.2"/>
<text x="40.80" y="588.80" class="t" text-anchor="end">0.2</text>
<path d="M42.00 615.40H46.00" stroke="#1e1e1e" stroke-width="1.2"/>
<text x="40.80" y="619.90" class="t" text-anchor="end">0.1</text>
<path d="M42.00 646.50H46.00" stroke="#1e1e1e" stroke-width="1.2"/>
<text x="40.80" y="651.00" class="t" text-anchor="end">0.0</text>
<path d="M42.00 677.60H46.00" stroke="#1e1e1e" stroke-width="1.2"/>
<text x="40.80" y="682.10" class="t" text-anchor="end">-0.1</text>
<path d="M42.00 708.70H46.00" stroke="#1e1e1e" stroke-width="1.2"/>
<text x="40.80" y="713.20" class="t" text-anchor="end">-0.2</text>
<path d="M51.70 714.90H266.60" stroke="#1e1e1e" stroke-width="1.4" fill="none"/>
<path d="M52.30 714.90V719.50" stroke="#1e1e1e" stroke-width="1.2"/>
<text x="52.30" y="730.40" class="t" text-anchor="middle">2</text>
<path d="M88.00 714.90V719.50" stroke="#1e1e1e" stroke-width="1.2"/>
<text x="88.00" y="730.40" class="t" text-anchor="middle">6</text>
<path d="M123.40 714.90V719.50" stroke="#1e1e1e" stroke-width="1.2"/>
<text x="123.40" y="730.40" class="t" text-anchor="middle">10</text>
<path d="M159.10 714.90V719.50" stroke="#1e1e1e" stroke-width="1.2"/>
<text x="159.10" y="730.40" class="t" text-anchor="middle">14</text>
<path d="M194.90 714.90V719.50" stroke="#1e1e1e" stroke-width="1.2"/>
<text x="194.90" y="730.40" class="t" text-anchor="middle">18</text>
<path d="M230.30 714.90V719.50" stroke="#1e1e1e" stroke-width="1.2"/>
<text x="230.30" y="730.40" class="t" text-anchor="middle">22</text>
<path d="M266.00 714.90V719.50" stroke="#1e1e1e" stroke-width="1.2"/>
<text x="266.00" y="730.40" class="t" text-anchor="middle">26</text>
<text x="0" y="0" class="yl" text-anchor="middle" transform="translate(10.00 615.40) rotate(-90) scale(0.986 1)">SSDV (mm day -1)</text>
<text x="158.80" y="748.00" class="xl" text-anchor="middle">Precipitation (mm)</text>
<text x="238.00" y="527.50" class="r">Rho = 0.21</text>
<text x="238.00" y="546.30" class="r">p = 0.0376</text>
<path d="M46.80 645.30L236.10 601.70" stroke="#1e1e1e" stroke-width="1.4" fill="none"/>
<circle cx="50.8" cy="612.2" r="2.95"/>
<circle cx="59.6" cy="605.0" r="2.95"/>
<circle cx="64.3" cy="611.0" r="2.95"/>
<circle cx="68.4" cy="612.2" r="2.95"/>
<circle cx="117.1" cy="614.5" r="2.95"/>
<circle cx="59.6" cy="631.1" r="2.95"/>
<circle cx="68.4" cy="655.3" r="2.95"/>
<circle cx="59.6" cy="669.8" r="2.95"/>
<circle cx="142.9" cy="607.5" r="2.95"/>
<circle cx="129.6" cy="645.0" r="2.95"/>
<circle cx="235.0" cy="616.2" r="2.95"/>
<path d="M239.2 614.9Q241.5 617.2 239.6 619.8" stroke="#1a1a1a" stroke-width="1.3" fill="none"/>
<path d="M395.80 521.50V710.90" stroke="#1e1e1e" stroke-width="1.4" fill="none"/>
<path d="M391.80 522.10H395.80" stroke="#1e1e1e" stroke-width="1.2"/>
<text x="390.60" y="526.60" class="t" text-anchor="end">0.4</text>
<path d="M391.80 553.47H395.80" stroke="#1e1e1e" stroke-width="1.2"/>
<text x="390.60" y="557.97" class="t" text-anchor="end">0.3</text>
<path d="M391.80 584.83H395.80" stroke="#1e1e1e" stroke-width="1.2"/>
<text x="390.60" y="589.33" class="t" text-anchor="end">0.2</text>
<path d="M391.80 616.20H395.80" stroke="#1e1e1e" stroke-width="1.2"/>
<text x="390.60" y="620.70" class="t" text-anchor="end">0.1</text>
<path d="M391.80 647.57H395.80" stroke="#1e1e1e" stroke-width="1.2"/>
<text x="390.60" y="652.07" class="t" text-anchor="end">0.0</text>
<path d="M391.80 678.93H395.80" stroke="#1e1e1e" stroke-width="1.2"/>
<text x="390.60" y="683.43" class="t" text-anchor="end">-0.1</text>
<path d="M391.80 710.30H395.80" stroke="#1e1e1e" stroke-width="1.2"/>
<text x="390.60" y="714.80" class="t" text-anchor="end">-0.2</text>
<path d="M401.20 716.30H616.90" stroke="#1e1e1e" stroke-width="1.4" fill="none"/>
<path d="M401.80 716.30V720.90" stroke="#1e1e1e" stroke-width="1.2"/>
<text x="401.80" y="731.80" class="t" text-anchor="middle">2</text>
<path d="M437.60 716.30V720.90" stroke="#1e1e1e" stroke-width="1.2"/>
<text x="437.60" y="731.80" class="t" text-anchor="middle">6</text>
<path d="M473.60 716.30V720.90" stroke="#1e1e1e" stroke-width="1.2"/>
<text x="473.60" y="731.80" class="t" text-anchor="middle">10</text>
<path d="M509.40 716.30V720.90" stroke="#1e1e1e" stroke-width="1.2"/>
<text x="509.40" y="731.80" class="t" text-anchor="middle">14</text>
<path d="M545.10 716.30V720.90" stroke="#1e1e1e" stroke-width="1.2"/>
<text x="545.10" y="731.80" class="t" text-anchor="middle">18</text>
<path d="M580.50 716.30V720.90" stroke="#1e1e1e" stroke-width="1.2"/>
<text x="580.50" y="731.80" class="t" text-anchor="middle">22</text>
<path d="M616.30 716.30V720.90" stroke="#1e1e1e" stroke-width="1.2"/>
<text x="616.30" y="731.80" class="t" text-anchor="middle">26</text>
<text x="0" y="0" class="yl" text-anchor="middle" transform="translate(359.10 615.70) rotate(-90) scale(0.986 1)">SSDV (mm day -1)</text>
<text x="508.50" y="749.00" class="xl" text-anchor="middle">Precipitation (mm)</text>
<text x="604.40" y="528.20" class="r">Rho = 0.13</text>
<text x="604.40" y="547.50" class="r">p = 0.1901</text>
<circle cx="409.2" cy="551.1" r="3.15"/>
<circle cx="400.6" cy="570.6" r="3.15"/>
<circle cx="414.3" cy="570.4" r="3.15"/>
<circle cx="418.1" cy="574.5" r="3.15"/>
<circle cx="467.6" cy="577.0" r="3.15"/>
<circle cx="494.6" cy="571.2" r="3.15"/>
<circle cx="588.0" cy="579.2" r="3.15"/>
<circle cx="409.2" cy="627.8" r="3.15"/>
<circle cx="409.2" cy="654.9" r="3.15"/>
<circle cx="418.1" cy="673.0" r="3.15"/>
<circle cx="481.3" cy="639.3" r="3.15"/>
<path d="M46.70 779.10V968.40" stroke="#1e1e1e" stroke-width="1.4" fill="none"/>
<path d="M42.70 779.70H46.70" stroke="#1e1e1e" stroke-width="1.2"/>
<text x="41.50" y="784.20" class="t" text-anchor="end">0.4</text>
<path d="M42.70 811.05H46.70" stroke="#1e1e1e" stroke-width="1.2"/>
<text x="41.50" y="815.55" class="t" text-anchor="end">0.3</text>
<path d="M42.70 842.40H46.70" stroke="#1e1e1e" stroke-width="1.2"/>
<text x="41.50" y="846.90" class="t" text-anchor="end">0.2</text>
<path d="M42.70 873.75H46.70" stroke="#1e1e1e" stroke-width="1.2"/>
<text x="41.50" y="878.25" class="t" text-anchor="end">0.1</text>
<path d="M42.70 905.10H46.70" stroke="#1e1e1e" stroke-width="1.2"/>
<text x="41.50" y="909.60" class="t" text-anchor="end">0.0</text>
<path d="M42.70 936.45H46.70" stroke="#1e1e1e" stroke-width="1.2"/>
<text x="41.50" y="940.95" class="t" text-anchor="end">-0.1</text>
<path d="M42.70 967.80H46.70" stroke="#1e1e1e" stroke-width="1.2"/>
<text x="41.50" y="972.30" class="t" text-anchor="end">-0.2</text>
<path d="M52.40 974.20H268.40" stroke="#1e1e1e" stroke-width="1.4" fill="none"/>
<path d="M53.00 974.20V978.80" stroke="#1e1e1e" stroke-width="1.2"/>
<text x="53.00" y="989.70" class="t" text-anchor="middle">1</text>
<path d="M89.00 974.20V978.80" stroke="#1e1e1e" stroke-width="1.2"/>
<text x="89.00" y="989.70" class="t" text-anchor="middle">2</text>
<path d="M124.80 974.20V978.80" stroke="#1e1e1e" stroke-width="1.2"/>
<text x="124.80" y="989.70" class="t" text-anchor="middle">3</text>
<path d="M160.90 974.20V978.80" stroke="#1e1e1e" stroke-width="1.2"/>
<text x="160.90" y="989.70" class="t" text-anchor="middle">4</text>
<path d="M195.90 974.20V978.80" stroke="#1e1e1e" stroke-width="1.2"/>
<text x="195.90" y="989.70" class="t" text-anchor="middle">6</text>
<path d="M232.00 974.20V978.80" stroke="#1e1e1e" stroke-width="1.2"/>
<text x="232.00" y="989.70" class="t" text-anchor="middle">7</text>
<path d="M267.80 974.20V978.80" stroke="#1e1e1e" stroke-width="1.2"/>
<text x="267.80" y="989.70" class="t" text-anchor="middle">8</text>
<text x="0" y="0" class="yl" text-anchor="middle" transform="translate(10.00 873.80) rotate(-90) scale(0.986 1)">SSDV (mm day -1)</text>
<text x="158.60" y="1006.50" class="xl" text-anchor="middle">Evapotranspiration (mm)</text>
<text x="240.40" y="787.40" class="r">Rho = -0.62</text>
<text x="240.40" y="806.20" class="r">p &lt; 0.0001</text>
<path d="M60.50 867.50L140.00 899.85" stroke="#1e1e1e" stroke-width="1.4" fill="none"/>
<path d="M141.39 900.41L148.80 903.43" stroke="#1e1e1e" stroke-width="1.4" fill="none"/>
<path d="M150.19 904.00L157.60 907.01" stroke="#1e1e1e" stroke-width="1.4" fill="none"/>
<path d="M158.99 907.58L166.40 910.59" stroke="#1e1e1e" stroke-width="1.4" fill="none"/>
<path d="M167.79 911.16L175.20 914.17" stroke="#1e1e1e" stroke-width="1.4" fill="none"/>
<path d="M176.59 914.74L184.00 917.75" stroke="#1e1e1e" stroke-width="1.4" fill="none"/>
<path d="M185.39 918.32L192.80 921.33" stroke="#1e1e1e" stroke-width="1.4" fill="none"/>
<path d="M194.19 921.90L201.60 924.91" stroke="#1e1e1e" stroke-width="1.4" fill="none"/>
<path d="M202.99 925.48L210.40 928.49" stroke="#1e1e1e" stroke-width="1.4" fill="none"/>
<path d="M211.78 929.06L219.19 932.07" stroke="#1e1e1e" stroke-width="1.4" fill="none"/>
<path d="M220.58 932.64L222.00 933.22" stroke="#1e1e1e" stroke-width="1.4" fill="none"/>
<path d="M222.00 933.22L231.30 937.00" stroke="#1e1e1e" stroke-width="1.4" fill="none"/>
<circle cx="73.7" cy="866.7" r="3.15"/>
<circle cx="67.6" cy="873.0" r="3.15"/>
<circle cx="72.8" cy="875.5" r="3.15"/>
<circle cx="105.8" cy="853.4" r="3.15"/>
<circle cx="97.8" cy="863.9" r="3.15"/>
<circle cx="97.6" cy="869.6" r="3.15"/>
<circle cx="91.2" cy="873.9" r="3.15"/>
<circle cx="106.9" cy="872.0" r="3.15"/>
<circle cx="112.4" cy="871.5" r="3.15"/>
<circle cx="79.8" cy="890.1" r="3.15"/>
<circle cx="79.4" cy="902.0" r="3.15"/>
<circle cx="81.6" cy="904.9" r="3.15"/>
<circle cx="90.1" cy="900.9" r="3.15"/>
<circle cx="109.8" cy="896.9" r="3.15"/>
<circle cx="113.2" cy="897.5" r="3.15"/>
<circle cx="60.0" cy="908.9" r="3.15"/>
<circle cx="68.0" cy="906.9" r="3.15"/>
<circle cx="68.0" cy="914.8" r="3.15"/>
<circle cx="95.3" cy="913.8" r="3.15"/>
<circle cx="134.9" cy="850.2" r="3.15"/>
<circle cx="129.8" cy="852.4" r="3.15"/>
<circle cx="134.9" cy="860.1" r="3.15"/>
<circle cx="144.8" cy="858.1" r="3.15"/>
<circle cx="121.3" cy="862.1" r="3.15"/>
<circle cx="116.9" cy="865.0" r="3.15"/>
<circle cx="119.6" cy="868.9" r="3.15"/>
<circle cx="125.8" cy="870.6" r="3.15"/>
<circle cx="128.1" cy="876.3" r="3.15"/>
<circle cx="124.1" cy="880.6" r="3.15"/>
<circle cx="142.3" cy="867.8" r="3.15"/>
<circle cx="145.7" cy="867.6" r="3.15"/>
<circle cx="156.2" cy="874.6" r="3.15"/>
<circle cx="165.1" cy="879.0" r="3.15"/>
<circle cx="178.8" cy="873.8" r="3.15"/>
<circle cx="146.9" cy="880.3" r="3.15"/>
<circle cx="141.7" cy="883.7" r="3.15"/>
<circle cx="138.3" cy="887.2" r="3.15"/>
<circle cx="133.2" cy="888.9" r="3.15"/>
<circle cx="133.8" cy="892.8" r="3.15"/>
<circle cx="134.9" cy="896.3" r="3.15"/>
<circle cx="142.3" cy="891.7" r="3.15"/>
<circle cx="145.7" cy="892.8" r="3.15"/>
<circle cx="154.3" cy="893.4" r="3.15"/>
<circle cx="167.1" cy="891.1" r="3.15"/>
<circle cx="180.8" cy="891.2" r="3.15"/>
<circle cx="161.1" cy="904.6" r="3.15"/>
<circle cx="152.2" cy="909.9" r="3.15"/>
<circle cx="144.8" cy="914.5" r="3.15"/>
<circle cx="167.8" cy="912.8" r="3.15"/>
<circle cx="228.3" cy="860.3" r="3.15"/>
<circle cx="186.4" cy="909.4" r="3.15"/>
<circle cx="198.2" cy="912.4" r="3.15"/>
<circle cx="207.7" cy="914.6" r="3.15"/>
<circle cx="214.0" cy="917.5" r="3.15"/>
<circle cx="219.5" cy="914.6" r="3.15"/>
<circle cx="221.8" cy="919.5" r="3.15"/>
<circle cx="217.1" cy="918.3" r="3.15"/>
<circle cx="187.4" cy="916.6" r="3.15"/>
<circle cx="191.9" cy="918.3" r="3.15"/>
<circle cx="188.1" cy="922.0" r="3.15"/>
<circle cx="186.2" cy="925.0" r="3.15"/>
<circle cx="189.7" cy="924.8" r="3.15"/>
<circle cx="197.0" cy="928.8" r="3.15"/>
<circle cx="214.8" cy="930.2" r="3.15"/>
<circle cx="217.9" cy="928.6" r="3.15"/>
<circle cx="231.3" cy="942.7" r="3.15"/>
<circle cx="149.6" cy="926.0" r="3.15"/>
<circle cx="144.7" cy="932.0" r="3.15"/>
<circle cx="143.6" cy="942.3" r="3.15"/>
<circle cx="147.3" cy="943.5" r="3.15"/>
<circle cx="163.6" cy="921.9" r="3.15"/>
<circle cx="169.2" cy="925.5" r="3.15"/>
<circle cx="167.0" cy="930.7" r="3.15"/>
<circle cx="169.8" cy="933.3" r="3.15"/>
<circle cx="176.0" cy="935.7" r="3.15"/>
<circle cx="181.5" cy="933.8" r="3.15"/>
<circle cx="184.6" cy="938.3" r="3.15"/>
<circle cx="185.0" cy="941.0" r="3.15"/>
<circle cx="192.0" cy="939.2" r="3.15"/>
<circle cx="190.6" cy="943.0" r="3.15"/>
<circle cx="188.1" cy="947.5" r="3.15"/>
<circle cx="207.4" cy="936.6" r="3.15"/>
<circle cx="212.8" cy="940.6" r="3.15"/>
<circle cx="206.0" cy="943.5" r="3.15"/>
<circle cx="215.0" cy="947.5" r="3.15"/>
<circle cx="219.5" cy="948.8" r="3.15"/>
<circle cx="223.3" cy="944.6" r="3.15"/>
<circle cx="222.6" cy="949.7" r="3.15"/>
<circle cx="202.6" cy="953.0" r="3.15"/>
<circle cx="205.1" cy="952.0" r="3.15"/>
<path d="M395.80 779.10V968.40" stroke="#1e1e1e" stroke-width="1.4" fill="none"/>
<path d="M391.80 779.70H395.80" stroke="#1e1e1e" stroke-width="1.2"/>
<text x="390.60" y="784.20" class="t" text-anchor="end">0.4</text>
<path d="M391.80 811.05H395.80" stroke="#1e1e1e" stroke-width="1.2"/>
<text x="390.60" y="815.55" class="t" text-anchor="end">0.3</text>
<path d="M391.80 842.40H395.80" stroke="#1e1e1e" stroke-width="1.2"/>
<text x="390.60" y="846.90" class="t" text-anchor="end">0.2</text>
<path d="M391.80 873.75H395.80" stroke="#1e1e1e" stroke-width="1.2"/>
<text x="390.60" y="878.25" class="t" text-anchor="end">0.1</text>
<path d="M391.80 905.10H395.80" stroke="#1e1e1e" stroke-width="1.2"/>
<text x="390.60" y="909.60" class="t" text-anchor="end">0.0</text>
<path d="M391.80 936.45H395.80" stroke="#1e1e1e" stroke-width="1.2"/>
<text x="390.60" y="940.95" class="t" text-anchor="end">-0.1</text>
<path d="M391.80 967.80H395.80" stroke="#1e1e1e" stroke-width="1.2"/>
<text x="390.60" y="972.30" class="t" text-anchor="end">-0.2</text>
<path d="M401.20 973.90H616.90" stroke="#1e1e1e" stroke-width="1.4" fill="none"/>
<path d="M401.80 973.90V978.50" stroke="#1e1e1e" stroke-width="1.2"/>
<text x="401.80" y="989.40" class="t" text-anchor="middle">1</text>
<path d="M437.60 973.90V978.50" stroke="#1e1e1e" stroke-width="1.2"/>
<text x="437.60" y="989.40" class="t" text-anchor="middle">2</text>
<path d="M473.60 973.90V978.50" stroke="#1e1e1e" stroke-width="1.2"/>
<text x="473.60" y="989.40" class="t" text-anchor="middle">3</text>
<path d="M509.40 973.90V978.50" stroke="#1e1e1e" stroke-width="1.2"/>
<text x="509.40" y="989.40" class="t" text-anchor="middle">5</text>
<path d="M545.10 973.90V978.50" stroke="#1e1e1e" stroke-width="1.2"/>
<text x="545.10" y="989.40" class="t" text-anchor="middle">6</text>
<path d="M580.50 973.90V978.50" stroke="#1e1e1e" stroke-width="1.2"/>
<text x="580.50" y="989.40" class="t" text-anchor="middle">7</text>
<path d="M616.30 973.90V978.50" stroke="#1e1e1e" stroke-width="1.2"/>
<text x="616.30" y="989.40" class="t" text-anchor="middle">8</text>
<text x="0" y="0" class="yl" text-anchor="middle" transform="translate(359.10 874.00) rotate(-90) scale(0.986 1)">SSDV (mm day -1)</text>
<text x="508.20" y="1006.50" class="xl" text-anchor="middle">Evapotranspiration (mm)</text>
<text x="600.70" y="786.10" class="r">Rho = -0.38</text>
<text x="600.70" y="805.00" class="r">p = 0.0001</text>
<path d="M410.00 838.00L420.00 841.59" stroke="#1e1e1e" stroke-width="1.4" fill="none"/>
<path d="M421.88 842.27L427.53 844.30" stroke="#1e1e1e" stroke-width="1.4" fill="none"/>
<path d="M429.41 844.98L435.06 847.01" stroke="#1e1e1e" stroke-width="1.4" fill="none"/>
<path d="M436.94 847.68L442.59 849.71" stroke="#1e1e1e" stroke-width="1.4" fill="none"/>
<path d="M444.47 850.39L450.11 852.42" stroke="#1e1e1e" stroke-width="1.4" fill="none"/>
<path d="M452.00 853.09L457.64 855.12" stroke="#1e1e1e" stroke-width="1.4" fill="none"/>
<path d="M459.52 855.80L465.17 857.83" stroke="#1e1e1e" stroke-width="1.4" fill="none"/>
<path d="M467.05 858.51L472.70 860.54" stroke="#1e1e1e" stroke-width="1.4" fill="none"/>
<path d="M474.58 861.21L480.23 863.24" stroke="#1e1e1e" stroke-width="1.4" fill="none"/>
<path d="M482.11 863.92L487.76 865.95" stroke="#1e1e1e" stroke-width="1.4" fill="none"/>
<path d="M489.64 866.62L495.29 868.65" stroke="#1e1e1e" stroke-width="1.4" fill="none"/>
<path d="M497.17 869.33L502.81 871.36" stroke="#1e1e1e" stroke-width="1.4" fill="none"/>
<path d="M504.70 872.03L510.34 874.06" stroke="#1e1e1e" stroke-width="1.4" fill="none"/>
<path d="M512.22 874.74L517.87 876.77" stroke="#1e1e1e" stroke-width="1.4" fill="none"/>
<path d="M519.75 877.45L525.40 879.48" stroke="#1e1e1e" stroke-width="1.4" fill="none"/>
<path d="M527.28 880.15L532.93 882.18" stroke="#1e1e1e" stroke-width="1.4" fill="none"/>
<path d="M534.81 882.86L540.46 884.89" stroke="#1e1e1e" stroke-width="1.4" fill="none"/>
<path d="M542.34 885.56L547.98 887.59" stroke="#1e1e1e" stroke-width="1.4" fill="none"/>
<path d="M549.87 888.27L555.51 890.30" stroke="#1e1e1e" stroke-width="1.4" fill="none"/>
<path d="M557.40 890.98L563.04 893.01" stroke="#1e1e1e" stroke-width="1.4" fill="none"/>
<path d="M564.92 893.68L570.57 895.71" stroke="#1e1e1e" stroke-width="1.4" fill="none"/>
<path d="M572.45 896.39L573.00 896.58" stroke="#1e1e1e" stroke-width="1.4" fill="none"/>
<path d="M573.00 896.58L573.60 896.80" stroke="#1e1e1e" stroke-width="1.4" fill="none"/>
<circle cx="454.9" cy="787.4" r="3.15"/>
<circle cx="452.1" cy="802.8" r="3.15"/>
<circle cx="448.0" cy="809.0" r="3.15"/>
<circle cx="464.7" cy="810.7" r="3.15"/>
<circle cx="418.8" cy="809.8" r="3.15"/>
<circle cx="426.0" cy="828.9" r="3.15"/>
<circle cx="423.9" cy="836.9" r="3.15"/>
<circle cx="441.5" cy="835.0" r="3.15"/>
<circle cx="454.9" cy="827.8" r="3.15"/>
<circle cx="463.9" cy="867.8" r="3.15"/>
<circle cx="433.6" cy="885.5" r="3.15"/>
<circle cx="434.7" cy="896.7" r="3.15"/>
<circle cx="442.3" cy="902.1" r="3.15"/>
<circle cx="432.8" cy="906.6" r="3.15"/>
<circle cx="409.3" cy="934.0" r="3.15"/>
<circle cx="418.0" cy="931.5" r="3.15"/>
<circle cx="418.0" cy="935.4" r="3.15"/>
<circle cx="446.1" cy="936.9" r="3.15"/>
<circle cx="480.5" cy="792.3" r="3.15"/>
<circle cx="483.9" cy="792.3" r="3.15"/>
<circle cx="482.2" cy="801.6" r="3.15"/>
<circle cx="475.4" cy="806.0" r="3.15"/>
<circle cx="487.3" cy="806.0" r="3.15"/>
<circle cx="482.2" cy="812.8" r="3.15"/>
<circle cx="496.6" cy="801.1" r="3.15"/>
<circle cx="502.7" cy="812.8" r="3.15"/>
<circle cx="477.3" cy="819.6" r="3.15"/>
<circle cx="474.6" cy="828.0" r="3.15"/>
<circle cx="487.1" cy="832.1" r="3.15"/>
<circle cx="500.7" cy="831.0" r="3.15"/>
<circle cx="507.6" cy="834.9" r="3.15"/>
<circle cx="518.3" cy="825.3" r="3.15"/>
<circle cx="477.3" cy="843.7" r="3.15"/>
<circle cx="491.9" cy="840.6" r="3.15"/>
<circle cx="491.0" cy="846.6" r="3.15"/>
<circle cx="505.5" cy="843.7" r="3.15"/>
<circle cx="498.7" cy="846.6" r="3.15"/>
<circle cx="501.0" cy="848.3" r="3.15"/>
<circle cx="497.6" cy="855.7" r="3.15"/>
<circle cx="502.1" cy="856.3" r="3.15"/>
<circle cx="506.7" cy="854.0" r="3.15"/>
<circle cx="507.8" cy="858.5" r="3.15"/>
<circle cx="510.1" cy="859.7" r="3.15"/>
<circle cx="515.2" cy="855.1" r="3.15"/>
<circle cx="513.5" cy="859.7" r="3.15"/>
<circle cx="516.3" cy="863.1" r="3.15"/>
<circle cx="525.8" cy="858.3" r="3.15"/>
<circle cx="501.5" cy="880.6" r="3.15"/>
<circle cx="510.1" cy="882.7" r="3.15"/>
<circle cx="516.9" cy="880.6" r="3.15"/>
<circle cx="468.5" cy="894.1" r="3.15"/>
<circle cx="468.5" cy="898.7" r="3.15"/>
<circle cx="523.2" cy="892.0" r="3.15"/>
<circle cx="528.5" cy="895.1" r="3.15"/>
<circle cx="516.3" cy="902.1" r="3.15"/>
<circle cx="516.9" cy="904.4" r="3.15"/>
<circle cx="522.0" cy="903.0" r="3.15"/>
<circle cx="510.1" cy="910.6" r="3.15"/>
<circle cx="505.5" cy="915.2" r="3.15"/>
<circle cx="506.1" cy="919.2" r="3.15"/>
<circle cx="517.1" cy="924.3" r="3.15"/>
<circle cx="528.5" cy="871.7" r="3.15"/>
<circle cx="529.1" cy="875.1" r="3.15"/>
<circle cx="532.5" cy="869.7" r="3.15"/>
<circle cx="539.6" cy="866.6" r="3.15"/>
<circle cx="539.9" cy="868.9" r="3.15"/>
<circle cx="556.4" cy="867.7" r="3.15"/>
<circle cx="551.0" cy="874.0" r="3.15"/>
<circle cx="565.9" cy="868.9" r="3.15"/>
<circle cx="559.9" cy="881.6" r="3.15"/>
<circle cx="570.6" cy="890.2" r="3.15"/>
<circle cx="556.0" cy="892.2" r="3.15"/>
<circle cx="573.6" cy="896.9" r="3.15"/>
<circle cx="534.8" cy="898.9" r="3.15"/>
<circle cx="530.7" cy="907.6" r="3.15"/>
<circle cx="531.8" cy="913.7" r="3.15"/>
<circle cx="538.6" cy="909.6" r="3.15"/>
<circle cx="548.1" cy="908.6" r="3.15"/>
<circle cx="549.1" cy="912.7" r="3.15"/>
<circle cx="558.8" cy="910.5" r="3.15"/>
<circle cx="572.6" cy="904.6" r="3.15"/>
<circle cx="572.2" cy="912.2" r="3.15"/>
<circle cx="568.0" cy="914.2" r="3.15"/>
<circle cx="572.6" cy="916.4" r="3.15"/>
<circle cx="559.9" cy="917.3" r="3.15"/>
<circle cx="565.0" cy="920.4" r="3.15"/>
<circle cx="560.9" cy="923.8" r="3.15"/>
<circle cx="523.1" cy="914.7" r="3.15"/>
<circle cx="547.1" cy="920.9" r="3.15"/>
<circle cx="551.2" cy="924.5" r="3.15"/>
<circle cx="535.3" cy="925.0" r="3.15"/>
<circle cx="540.4" cy="923.9" r="3.15"/>
<circle cx="553.9" cy="932.9" r="3.15"/>
<circle cx="529.2" cy="907.8" r="3.15"/>
</svg>
</body></html>
